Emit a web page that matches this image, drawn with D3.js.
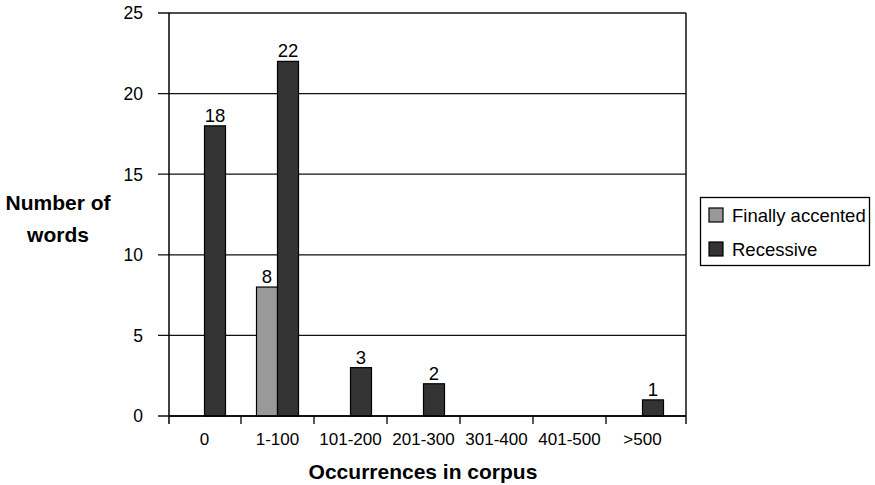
<!DOCTYPE html>
<html>
<head>
<meta charset="utf-8">
<script src="https://cdn.jsdelivr.net/npm/d3@7"></script>
<style>
  html, body { margin: 0; padding: 0; background: #fff; }
  svg { display: block; font-family: "Liberation Sans", Arial, sans-serif; }
</style>
</head>
<body>
<svg id="chart" width="875" height="485"></svg>
<script>
// Word counts by corpus frequency band
const categories = ["0", "1-100", "101-200", "201-300", "301-400", "401-500", ">500"];
const seriesNames = ["Finally accented", "Recessive"];
const finallyAccented = [0, 8, 0, 0, 0, 0, 0];
const recessive = [18, 22, 3, 2, 0, 0, 1];
const yTicks = [0, 5, 10, 15, 20, 25];
const seriesColors = ["#999999", "#333333"];

const seriesValues = [finallyAccented, recessive];

const svg = d3.select("#chart");

// Plot frame
const plot = { left: 169, right: 686, top: 13, bottom: 416 };
const tickLen = 11;

const x0 = d3.scaleBand()
  .domain(categories)
  .range([168, 679])
  .paddingInner(0)
  .paddingOuter(0);

const barW = 21;
const x1 = d3.scaleBand()
  .domain(seriesNames)
  .range([x0.bandwidth() / 2 - barW, x0.bandwidth() / 2 + barW]);

const y = d3.scaleLinear().domain([0, 25]).range([plot.bottom, plot.top]);

// Horizontal gridlines (also serve as y ticks)
svg.append("g")
  .selectAll("line")
  .data(yTicks)
  .join("line")
  .attr("x1", plot.left - tickLen)
  .attr("x2", plot.right)
  .attr("y1", d => y(d))
  .attr("y2", d => y(d))
  .attr("stroke", "#111")
  .attr("stroke-width", 1.3);

// Y tick labels
svg.append("g")
  .selectAll("text")
  .data(yTicks)
  .join("text")
  .attr("x", 143)
  .attr("y", d => y(d))
  .attr("dy", "0.36em")
  .attr("text-anchor", "end")
  .attr("font-size", 17.5)
  .attr("fill", "#000")
  .text(d => d);

// Bars
const groups = svg.append("g")
  .selectAll("g")
  .data(categories)
  .join("g")
  .attr("transform", d => `translate(${x0(d)},0)`);

const barData = (cat, i) => seriesNames.map((s, k) => ({ series: s, k, value: seriesValues[k][i] }));

groups.each(function (cat, i) {
  const g = d3.select(this);
  const items = barData(cat, i).filter(d => d.value > 0);
  g.selectAll("rect")
    .data(items)
    .join("rect")
    .attr("x", d => x1(d.series))
    .attr("width", x1.bandwidth())
    .attr("y", d => y(d.value))
    .attr("height", d => y(0) - y(d.value))
    .attr("fill", d => seriesColors[d.k])
    .attr("stroke", "#000")
    .attr("stroke-width", 1.2);
  g.selectAll("text")
    .data(items)
    .join("text")
    .attr("x", d => x1(d.series) + x1.bandwidth() / 2)
    .attr("y", d => y(d.value) - 4)
    .attr("text-anchor", "middle")
    .attr("font-size", 18.5)
    .attr("fill", "#000")
    .text(d => d.value);
});

// Axes lines and frame
svg.append("line")
  .attr("x1", plot.left).attr("x2", plot.left)
  .attr("y1", plot.top).attr("y2", plot.bottom + 8)
  .attr("stroke", "#000").attr("stroke-width", 1.5);
svg.append("line")
  .attr("x1", plot.right).attr("x2", plot.right)
  .attr("y1", plot.top).attr("y2", plot.bottom + 8)
  .attr("stroke", "#111").attr("stroke-width", 1.5);
svg.append("line")
  .attr("x1", plot.left).attr("x2", plot.right)
  .attr("y1", plot.bottom).attr("y2", plot.bottom)
  .attr("stroke", "#000").attr("stroke-width", 1.5);

// X ticks at category boundaries
svg.append("g")
  .selectAll("line")
  .data(categories.slice(1))
  .join("line")
  .attr("x1", d => x0(d))
  .attr("x2", d => x0(d))
  .attr("y1", plot.bottom)
  .attr("y2", plot.bottom + 8)
  .attr("stroke", "#000")
  .attr("stroke-width", 1.3);

// X tick labels
svg.append("g")
  .selectAll("text")
  .data(categories)
  .join("text")
  .attr("x", d => x0(d) + x0.bandwidth() / 2)
  .attr("y", 445)
  .attr("text-anchor", "middle")
  .attr("font-size", 17)
  .attr("fill", "#000")
  .text(d => d);

// Axis titles
svg.append("text")
  .attr("x", 423)
  .attr("y", 479)
  .attr("text-anchor", "middle")
  .attr("font-size", 21)
  .attr("font-weight", "bold")
  .attr("fill", "#000")
  .text("Occurrences in corpus");

const yTitle = svg.append("text")
  .attr("text-anchor", "middle")
  .attr("font-size", 21)
  .attr("font-weight", "bold")
  .attr("fill", "#000");
yTitle.append("tspan").attr("x", 58).attr("y", 210).text("Number of");
yTitle.append("tspan").attr("x", 58).attr("y", 242).text("words");

// Legend
const legend = svg.append("g");
legend.append("rect")
  .attr("x", 700.5).attr("y", 197.5)
  .attr("width", 169).attr("height", 68)
  .attr("fill", "#fff")
  .attr("stroke", "#000")
  .attr("stroke-width", 1.3);

const rows = legend.selectAll("g.row")
  .data(seriesNames)
  .join("g")
  .attr("class", "row")
  .attr("transform", (d, i) => `translate(709, ${208 + i * 34})`);
rows.append("rect")
  .attr("width", 14).attr("height", 14)
  .attr("fill", (d, i) => seriesColors[i])
  .attr("stroke", "#000")
  .attr("stroke-width", 1.2);
rows.append("text")
  .attr("x", 23)
  .attr("y", 7)
  .attr("dy", "0.36em")
  .attr("font-size", 18.5)
  .attr("fill", "#000")
  .text(d => d);
</script>
</body>
</html>
